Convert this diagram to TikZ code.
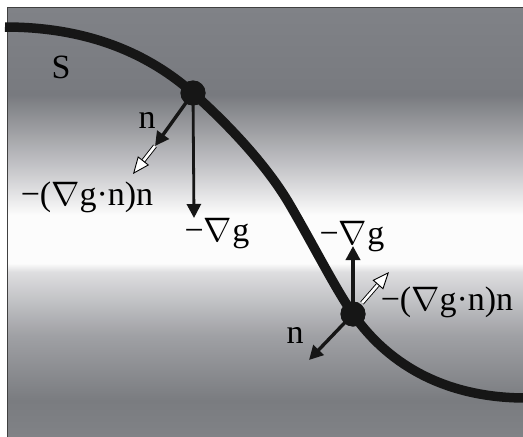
\documentclass[tikz,border=0pt]{standalone}
\usepackage{fix-cm}
\usepackage{fontspec}
\setmainfont{Liberation Serif}
\usetikzlibrary{arrows.meta}
\definecolor{gA}{RGB}{128,130,135}
\definecolor{gB}{RGB}{120,122,127}
\definecolor{gC}{RGB}{200,200,203}
\definecolor{gD}{RGB}{252,252,252}
\definecolor{gE}{RGB}{222,222,224}
\definecolor{gF}{RGB}{160,161,165}
\definecolor{gG}{RGB}{122,124,128}
\definecolor{gH}{RGB}{128,130,134}
\definecolor{curvecol}{RGB}{22,22,22}
\pgfdeclareverticalshading{bgshade}{100bp}{color(0bp)=(gH); color(25bp)=(gH); color(29.3bp)=(gG); color(36.9bp)=(gF); color(44.2bp)=(gE); color(45.2bp)=(gD); color(50.8bp)=(gD); color(56bp)=(gC); color(64.8bp)=(gB); color(75bp)=(gA); color(100bp)=(gA)}
\tikzset{
  dot/.style={circle, fill=curvecol, inner sep=0pt, minimum size=25pt},
  lbl/.style={anchor=base, inner sep=0pt, font=\fontsize{34}{40}\selectfont},
  blackarrow/.style={draw=curvecol, line width=3.4pt, -{Triangle[length=14pt,width=14pt]}},
  whitearrow/.style={draw=black, line width=0.9pt, double=white, double distance=2.6pt, -{Triangle[open, length=17pt, width=14pt, fill=white]}},
}
\begin{document}
\begin{tikzpicture}[x=1pt,y=-1pt]
\useasboundingbox (0,0) rectangle (523,437);
\shade[shading=bgshade] (7,7) rectangle (523,437);
\draw[black!75, line width=1pt] (7,437) -- (7,7) -- (523,7);
\node[dot] (A) at (193,93) {};
\node[dot] (B) at (353,314) {};
\coordinate (Lend) at (5,27);
\coordinate (Rend) at (526,398);
\coordinate (M) at (290,205);
% surface curve
\draw[curvecol, line width=9.5pt] (Lend) .. controls (90,27) and (150,55) .. (A.center)
  .. controls (230,126) and (268,167) .. (M)
  .. controls (315,248) and (335,288) .. (B.center)
  .. controls (385,360) and (440,398) .. (Rend);
\node[dot] at (A) {};
\node[dot] at (B) {};
\coordinate (nA) at (155,146);
\coordinate (wA) at (133,174);
\coordinate (gAt) at (194,218);
\coordinate (gBt) at (353,246);
\coordinate (nB) at (309,360);
\coordinate (wB0) at (362,303);
\coordinate (wB) at (389,272);
% arrows at A
\draw[whitearrow] (nA) -- (wA);
\draw[blackarrow] (A.center) -- (nA);
\draw[blackarrow, line width=2.8pt] (A.center) -- (gAt);
% arrows at B
\draw[blackarrow] (B.center) -- (gBt);
\draw[blackarrow] (B.center) -- (nB);
\draw[whitearrow] (wB0) -- (wB);
% labels
\node[lbl] (S) at (61,78) {S};
\node[lbl] (lnA) at (147,128) {n};
\node[lbl] (lwA) at (87,205) {−($\nabla$g·n)n};
\node[lbl] (lgA) at (217,241) {−$\nabla$g};
\node[lbl] (lgB) at (352,244) {−$\nabla$g};
\node[lbl] (lwB) at (447,310) {−($\nabla$g·n)n};
\node[lbl] (lnB) at (295,343) {n};
\end{tikzpicture}
\end{document}
